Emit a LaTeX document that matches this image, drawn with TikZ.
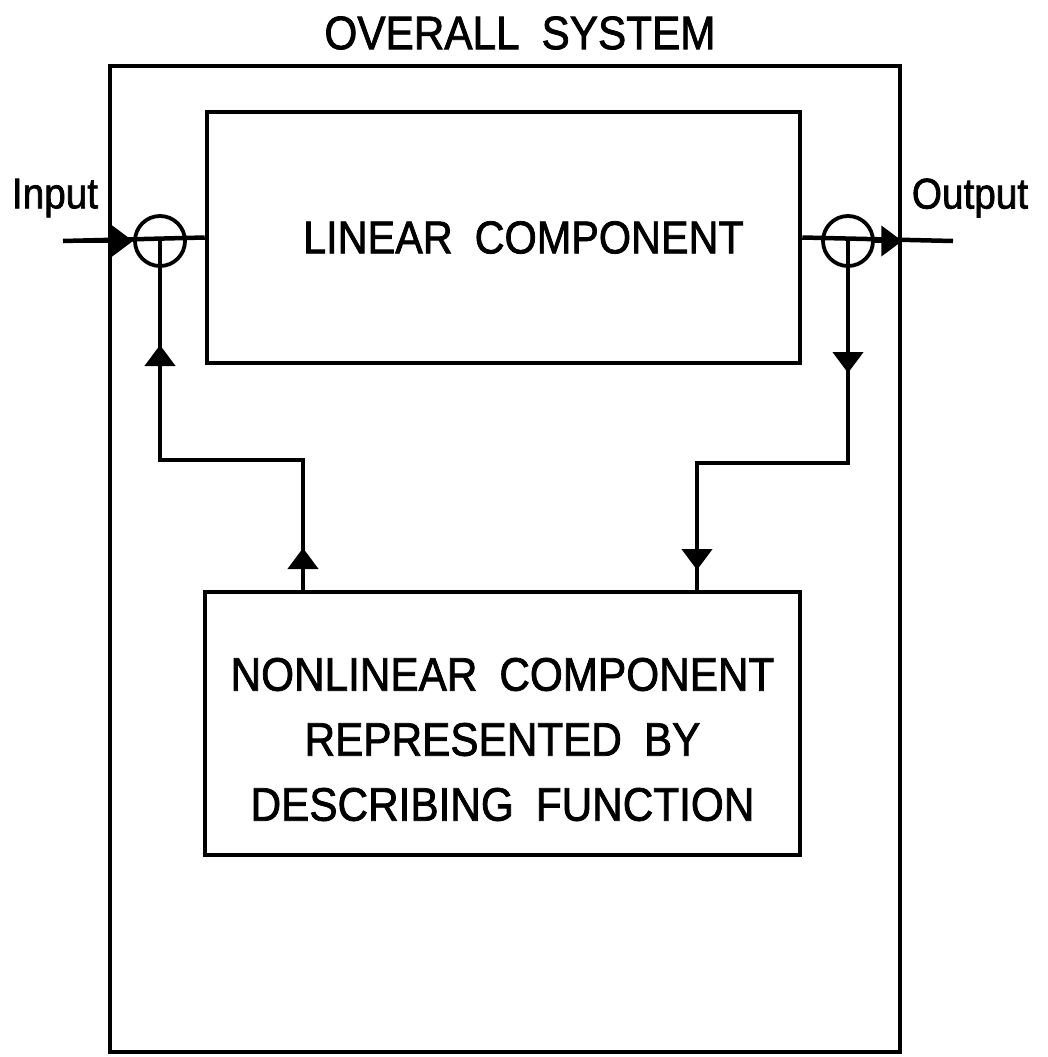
\documentclass[tikz,border=0pt]{standalone}
\usepackage{fontspec}
\setmainfont{Liberation Sans}
\newfontfamily\leroy{Liberation Sans}[FakeStretch=0.9,FakeBold=1.6]
\newcommand\widespace{\spaceskip=22pt\relax}
\usetikzlibrary{arrows.meta,positioning}

\tikzset{
  block/.style={draw, line width=4.5pt, inner sep=0pt, font=\leroy\fontsize{46}{65}\selectfont\widespace},
  sumpt/.style={draw, circle, line width=3.8pt, minimum size=50pt, inner sep=0pt},
  wire/.style={line width=4.5pt},
  flow/.style={line width=4.5pt, -{Triangle[length=21pt,width=30pt]}},
  caps/.style={font=\leroy\fontsize{47}{65}\selectfont\widespace},
  iolabel/.style={font=\leroy\fontsize{43}{46}\selectfont}
}

\begin{document}
\begin{tikzpicture}[x=1pt,y=-1pt]
  \useasboundingbox (0,0) rectangle (1047,1057);

  % overall system frame
  \node[caps] (title) at (520,33) {OVERALL SYSTEM};
  \node[block, minimum width=790pt, minimum height=986pt] (sys) at (505,559) {};

  % the two components
  \node[block, minimum width=593pt, minimum height=251pt] (lin) at (503.5,237.5)
    {\hspace*{40pt}LINEAR COMPONENT};
  \node[block, minimum width=595pt, minimum height=263pt] (nl) at (502.5,723.5) {};
  \node[caps, align=center] (nltxt) at ([yshift=-16pt]nl.center)
    {NONLINEAR COMPONENT\\REPRESENTED BY\\DESCRIBING FUNCTION};

  % summing points
  \node[sumpt] (sumL) at (160,241) {};
  \node[sumpt] (sumR) at (848,241) {};

  % input / output
  \node[iolabel] (inlbl) at (55,198) {Input};
  \node[iolabel] (outlbl) at (970,198) {Output};
  \coordinate (in) at (63,241);
  \coordinate (out) at (953,241);
  \draw[wire] (in) -- (lin.west);
  \draw[flow] (in) -- (sumL.west);
  \draw[wire] (lin.east) -- (out);
  \draw[flow] (sumR.east) -- (sys.east |- sumR);

  % feedback from the nonlinear part
  \coordinate (cornL) at (160,460);
  \coordinate (upL) at (160,345);
  \coordinate (upL2) at (303,548);
  \draw[wire] (nl.north -| upL2) |- (cornL) -- (sumL.center);
  \draw[flow] (nl.north -| upL2) -- (upL2);
  \draw[flow] (cornL) -- (upL);

  % signal to the nonlinear part
  \coordinate (cornR) at (848,463);
  \coordinate (dnR) at (848,373);
  \coordinate (dnR2) at (697,570);
  \draw[wire] (sumR.center) -- (cornR) -| (nl.north -| dnR2);
  \draw[flow] (sumR.center) -- (dnR);
  \draw[flow] (cornR -| dnR2) -- (dnR2);
\end{tikzpicture}
\end{document}
